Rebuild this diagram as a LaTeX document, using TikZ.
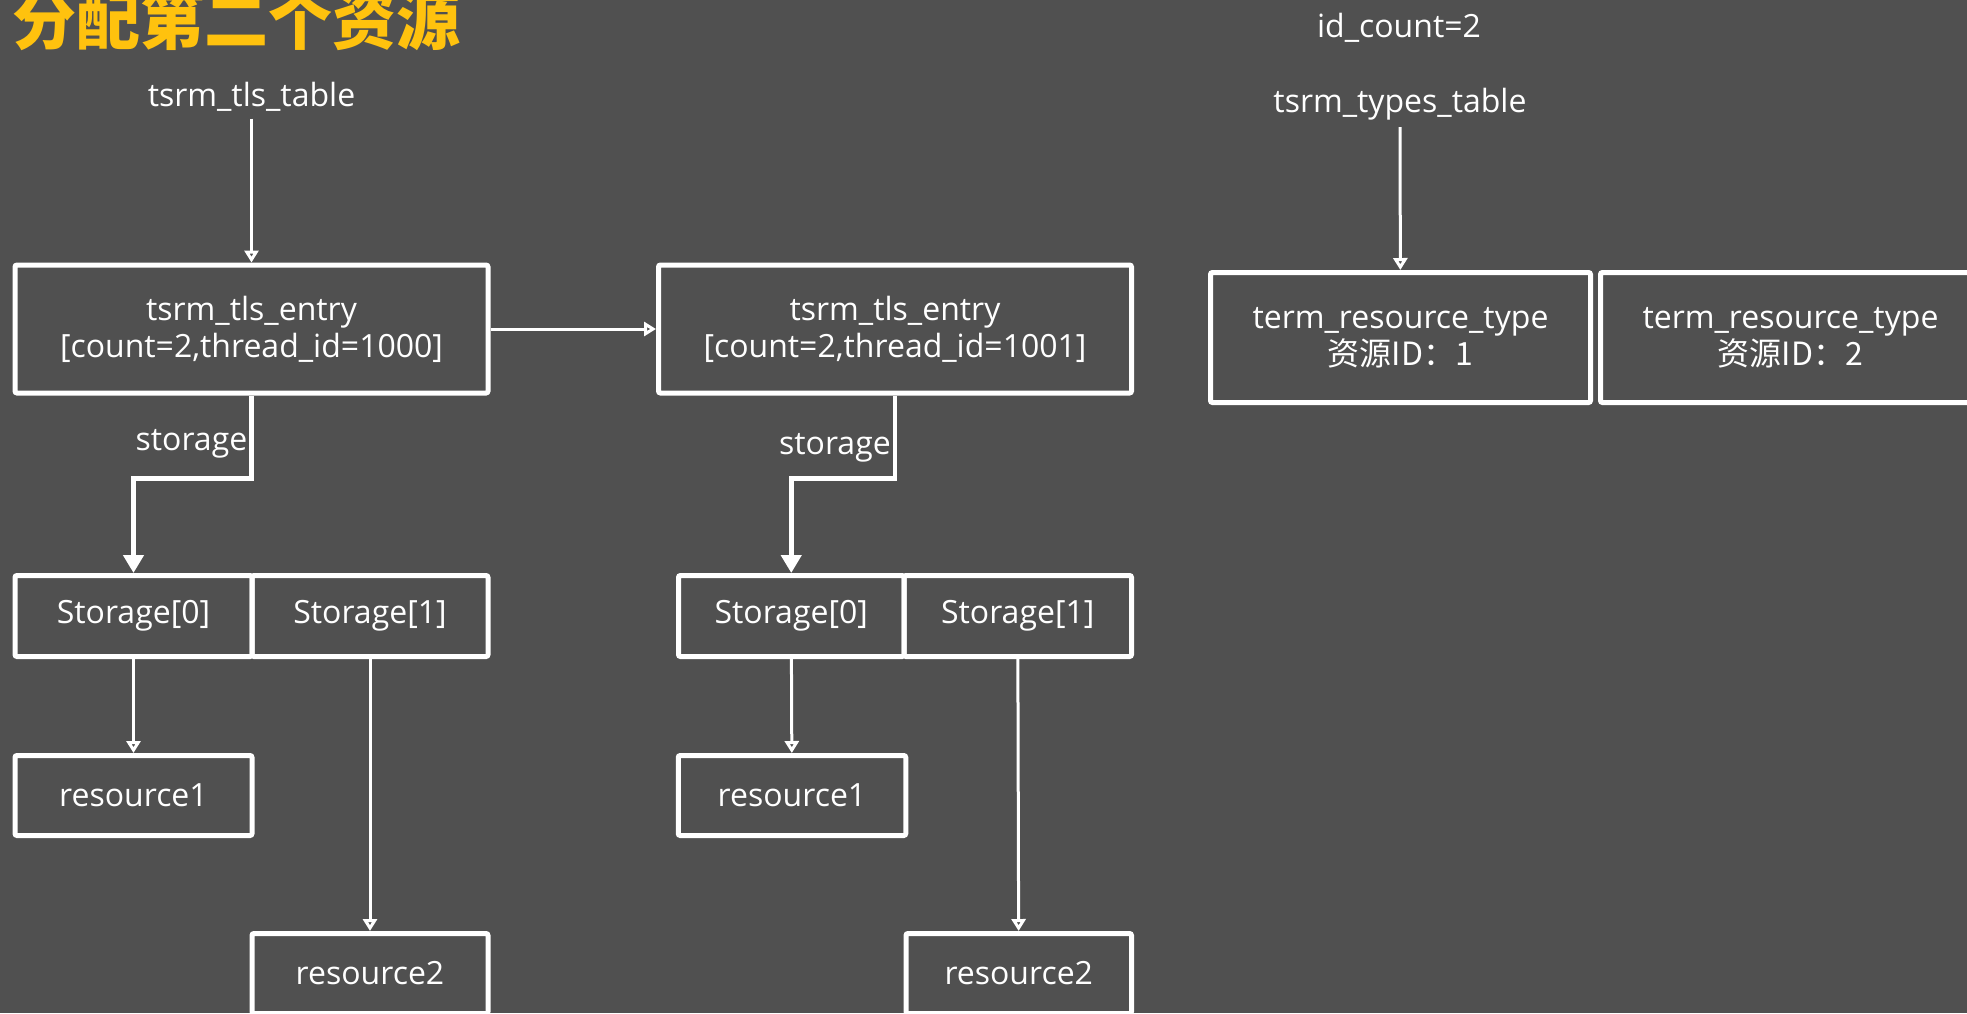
\documentclass[tikz,border=0pt]{standalone}
\usepackage{fontspec}
\setmainfont{Open Sans}
\newfontfamily\cjk{Noto Sans CJK SC}
\usepackage{tikz}
\usetikzlibrary{arrows.meta}
\definecolor{bggray}{RGB}{80,80,80}
\definecolor{titlegold}{RGB}{255,194,14}

\begin{document}
\begin{tikzpicture}[x=0.5pt, y=-0.5pt, every node/.style={text=white, font=\fontsize{16}{18.5}\selectfont}]
% Define styles
\tikzstyle{box} = [rectangle, draw=white, line width=2.5pt, rounded corners=1pt, align=center, inner sep=0pt]
\tikzstyle{entry} = [box, minimum width=236.5pt, minimum height=64pt]
\tikzstyle{slot} = [box, minimum height=40.5pt]
\tikzstyle{typebox} = [box, minimum width=190pt, minimum height=65pt]
\tikzstyle{arrow} = [draw=white, line width=1.5pt, -{Triangle[open, length=6pt, width=7pt]}]
\tikzstyle{storagearrow} = [draw=white, line width=2.25pt, -{Triangle[length=9pt, width=10pt]}]
% Background and page size
\fill[bggray] (0,0) rectangle (1967,1013);
\useasboundingbox (0,0) rectangle (1967,1013);
% Place nodes
\node (title) [anchor=base west, text=titlegold, font=\cjk\bfseries\fontsize{32}{36}\selectfont] at (5,44) {分配第二个资源};
\node (tlstable) at (251.5,97) {tsrm\_tls\_table};
\node (idcount) at (1399,28) {id\_count=2};
\node (typestable) at (1400,104) {tsrm\_types\_table};
\node (entryA) [entry] at (251.5,329) {tsrm\_tls\_entry \\ {[count=2,thread\_id=1000]}};
\node (entryB) [entry, right of=entryA, node distance=321.75pt] {tsrm\_tls\_entry \\ {[count=2,thread\_id=1001]}};
\node (stA0) [slot, minimum width=118.5pt] at (133.5,616) {Storage[0]};
\node (stA1) [slot, minimum width=118pt] at (370,616) {Storage[1]};
\node (stB0) [slot, minimum width=112.75pt] at (791.25,616) {Storage[0]};
\node (stB1) [slot, minimum width=113.75pt] at (1017.75,616) {Storage[1]};
\node (resA1) [slot, minimum width=118.5pt, minimum height=40pt] at (133.5,795.5) {resource1};
\node (resA2) [slot, minimum width=118pt, minimum height=40pt] at (370,973.5) {resource2};
\node (resB1) [slot, minimum width=113.75pt, minimum height=40pt] at (792,795.5) {resource1};
\node (resB2) [slot, minimum width=112.75pt, minimum height=40pt] at (1018.75,973.5) {resource2};
\node (type1) [typebox] at (1400.5,337.5) {term\_resource\_type \\ {\cjk 资源ID：1}};
\node (type2) [typebox, right of=type1, node distance=195pt] {term\_resource\_type \\ {\cjk 资源ID：2}};
% Draw arrows
\draw [arrow] (tlstable) -- (entryA);
\draw [arrow] (entryA) -- (entryB);
\draw [storagearrow] (entryA.south) -- node[left, pos=0.58, inner sep=1pt] {storage} ++(0,83) -| (stA0.north);
\draw [storagearrow] (entryB.south) -- node[left, pos=0.63, inner sep=1pt] {storage} ++(0,83) -| (stB0.north);
\draw [arrow] (stA0) -- (resA1);
\draw [arrow] (stA1) -- (resA2);
\draw [arrow] (stB0) -- (resB1);
\draw [arrow] (stB1) -- (resB2);
\draw [arrow] (typestable) -- (type1);
\end{tikzpicture}
\end{document}
